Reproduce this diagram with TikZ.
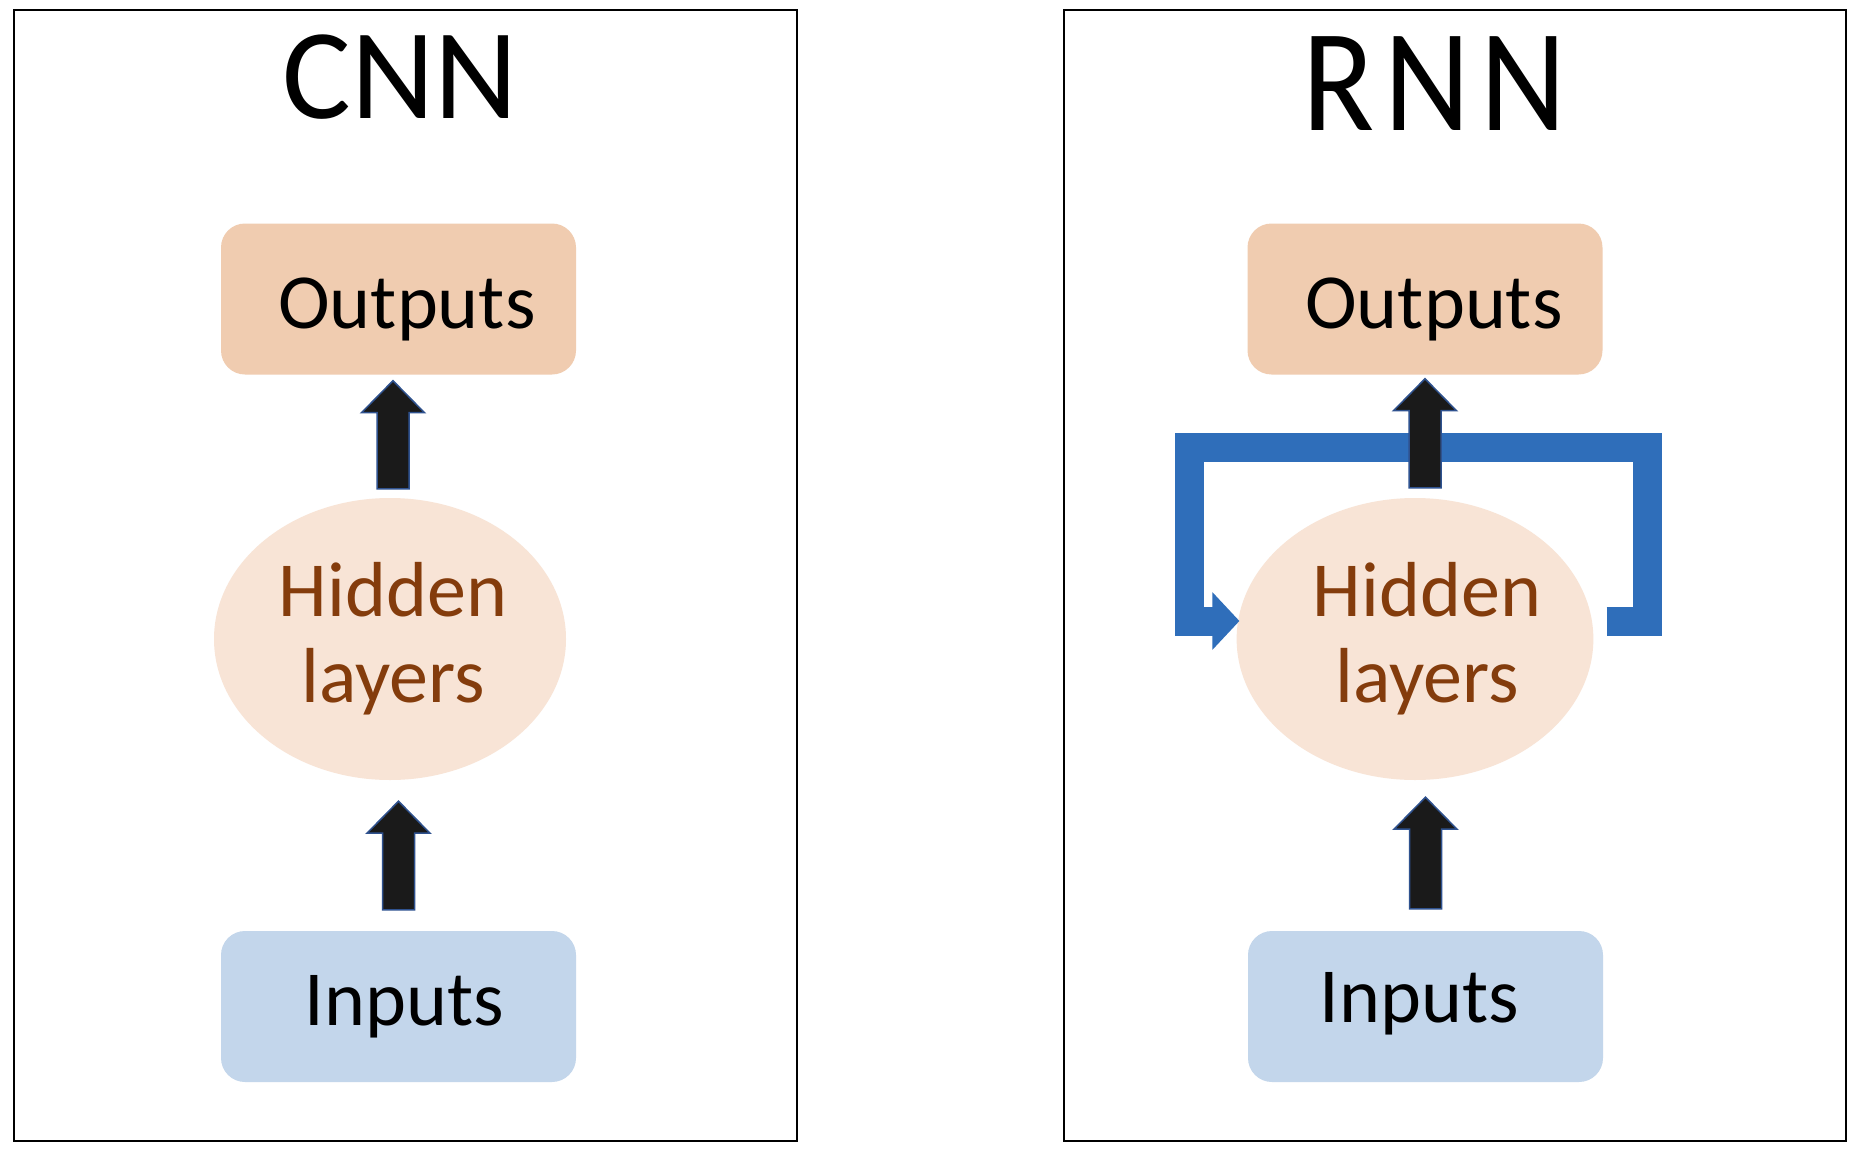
\documentclass[tikz,border=0pt]{standalone}
\usepackage{fontspec}
\setmainfont{Carlito}
\usetikzlibrary{shapes.geometric,arrows.meta,calc}
\definecolor{outfill}{HTML}{F0CCB0}
\definecolor{hidfill}{HTML}{F8E4D6}
\definecolor{infill}{HTML}{C3D6EB}
\definecolor{hidtext}{HTML}{843C0C}
\definecolor{loopblue}{HTML}{2F6EBA}
\definecolor{arrfill}{HTML}{1A1A1A}
\definecolor{arredge}{HTML}{2F528F}
\tikzset{
  box/.style={rectangle, rounded corners=24pt, minimum width=355pt, minimum height=151pt,
    inner sep=0pt, font=\fontsize{78}{86}\selectfont},
  outbox/.style={box, fill=outfill},
  inbox/.style={box, fill=infill},
  hid/.style={ellipse, fill=hidfill, minimum width=352pt, minimum height=282pt, inner sep=0pt,
    align=center, text=hidtext, font=\fontsize{78}{86}\selectfont},
  frame/.style={draw=black, line width=2pt},
  blockarr/.style={fill=arrfill, draw=arredge, line width=1.5pt, line join=miter},
  recur/.style={draw=loopblue, line width=29pt, line join=miter, -{Triangle[width=56pt,length=27pt]}},
  title/.style={anchor=base, inner sep=0pt},
}
\newcommand\blockarrow[2]{%
  \draw[blockarr] let \p1=#1, \p2=#2 in
  (\x1-16pt,\y1) -- (\x1+16pt,\y1) -- (\x1+16pt,\y2-32pt) -- (\x1+31.5pt,\y2-32pt)
  -- (\x1,\y2) -- (\x1-31.5pt,\y2-32pt) -- (\x1-16pt,\y2-32pt) -- cycle;}
\begin{document}
\begin{tikzpicture}[x=1pt,y=-1pt]
\useasboundingbox (0,0) rectangle (1858,1172);
\fill[white] (0,0) rectangle (1858,1172);
% frames
\draw[frame] (14,10) rectangle (797,1141);
\draw[frame] (1064,10) rectangle (1846,1141);
% titles
\node[title, font=\fontsize{129}{140}\selectfont] (tcnn) at (400,118) {CNN};
\node[title, font=\fontsize{133}{140}\selectfont] (trnn) at (1434,130) {\scalebox{1}[1.1]{R\kern10pt N\kern10pt N}};
% CNN
\node[outbox, text height=60pt, text depth=2pt] (outL) at (398.5,299) {\hspace*{17pt}Outputs};
\node[hid] (hidL) at (390,639) {\hspace*{6pt}Hidden\\\hspace*{6pt}layers};
\node[inbox, text height=40pt, text depth=3pt] (inL) at (398.5,1006.5) {\hspace*{12pt}Inputs};
\blockarrow{($(hidL.north)+(3,-9)$)}{($(outL.south)+(0,6)$)}
\blockarrow{($(inL.north)+(0,-21)$)}{($(hidL.south)+(0,21)$)}
% RNN
\node[outbox, text height=60pt, text depth=2pt] (outR) at (1425,299) {\hspace*{18pt}Outputs};
\node[hid] (hidR) at (1415,639) {\hspace*{24pt}Hidden\\\hspace*{24pt}layers};
\node[inbox, text height=34pt, text depth=3pt] (inR) at (1425.5,1006.5) {Inputs\hspace*{12pt}};
\coordinate (lpS) at ($(hidR.east)+(13,-18)$);
\coordinate (lpE) at ($(hidR.west)+(3,-18)$);
\draw[recur] (lpS) -- ++(41,0) -- ++(0,-174) -| ($(lpE)+(-50,0)$) -- (lpE);
\blockarrow{($(hidR.north)+(10,-10)$)}{($(outR.south)+(0,4)$)}
\blockarrow{($(inR.north)+(0,-22)$)}{($(hidR.south)+(0,17)$)}
\end{tikzpicture}
\end{document}
